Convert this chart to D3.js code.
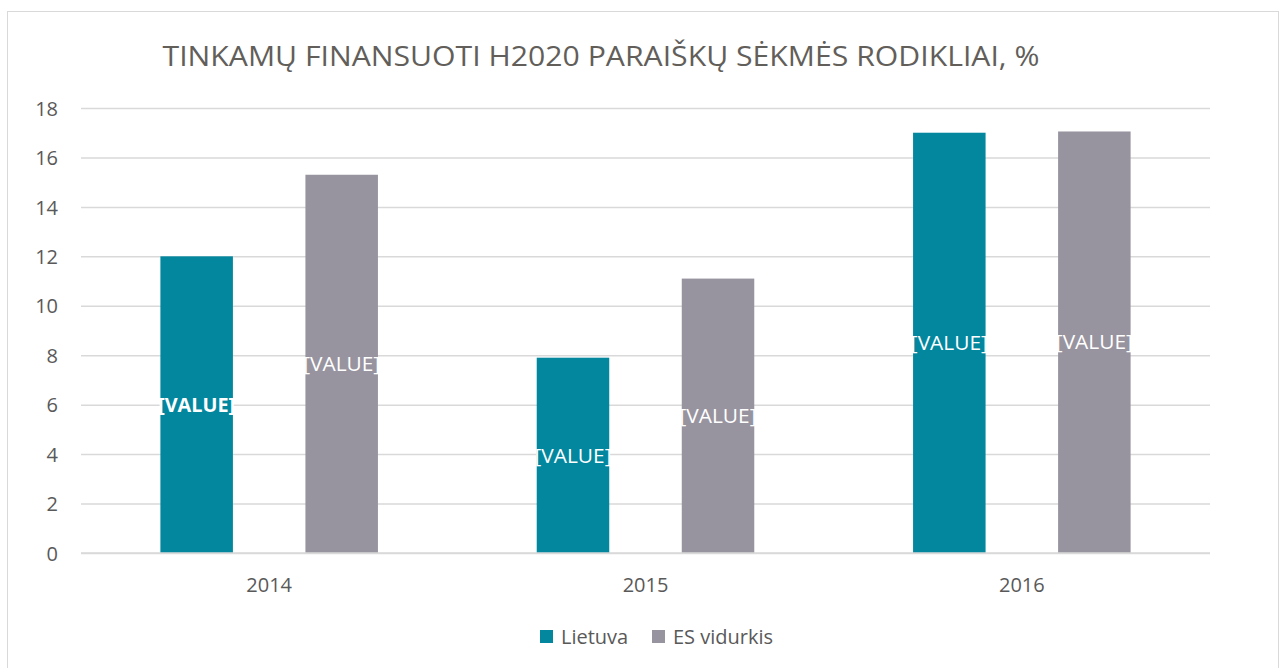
<!DOCTYPE html>
<html>
<head>
<meta charset="utf-8">
<script src="https://cdn.jsdelivr.net/npm/d3@7"></script>
<style>
  html, body { margin: 0; padding: 0; background: #fff; }
  svg { display: block; }
  text { font-family: "Open Sans", "Noto Sans", sans-serif; }
</style>
</head>
<body>
<svg id="chart" width="1285" height="668"></svg>
<script>
const title = "TINKAMŲ FINANSUOTI H2020 PARAIŠKŲ SĖKMĖS RODIKLIAI, %";
const categories = ["2014", "2015", "2016"];
const seriesNames = ["Lietuva", "ES vidurkis"];
const lietuva = [12.0, 7.9, 17.0];
const esVidurkis = [15.3, 11.1, 17.05];
const yTicks = [0, 2, 4, 6, 8, 10, 12, 14, 16, 18];
const labelText = "[VALUE]";
const boldLabel = [[true, false, false], [false, false, false]];

const colors = ["#02879F", "#98949F"];
const series = [lietuva, esVidurkis];

const svg = d3.select("#chart");
const W = 1285, H = 668;
const margin = { left: 81, right: 75, top: 108, bottom: 115 };
const plotW = W - margin.left - margin.right;
const plotH = H - margin.top - margin.bottom;

// chart border
svg.append("rect")
  .attr("x", 7.5).attr("y", 11.5)
  .attr("width", 1271).attr("height", 680)
  .attr("fill", "#fff").attr("stroke", "#d9d9d9").attr("stroke-width", 1);

const g = svg.append("g").attr("transform", `translate(${margin.left},${margin.top})`);

const x0 = d3.scaleBand().domain(categories).range([0, plotW]).paddingInner(0).paddingOuter(0);
const x1 = d3.scaleBand().domain(seriesNames).range([79.4, x0.bandwidth() - 79.4]).paddingInner(0.5).paddingOuter(0);
const y = d3.scaleLinear().domain([0, 18]).range([plotH, 0]);

// gridlines
const yAxis = d3.axisLeft(y).tickValues(yTicks).tickSize(-plotW).tickFormat(d3.format("d"));
const ya = g.append("g").call(yAxis);
ya.select(".domain").remove();
ya.selectAll(".tick line").attr("stroke", "#d9d9d9").attr("stroke-width", 1.5);
ya.selectAll(".tick text")
  .attr("fill", "#595959").attr("font-size", 20)
  .attr("text-anchor", "end").attr("x", -23).attr("dy", "0.36em");

// bars
const groups = g.selectAll(".grp").data(categories).enter().append("g")
  .attr("transform", d => `translate(${x0(d)},0)`);

groups.each(function(cat, ci) {
  const gg = d3.select(this);
  seriesNames.forEach((s, si) => {
    const v = series[si][ci];
    gg.append("rect")
      .attr("x", x1(s)).attr("y", y(v))
      .attr("width", x1.bandwidth()).attr("height", y(0) - y(v))
      .attr("fill", colors[si]);
    const bold = boldLabel[si][ci];
    gg.append("text")
      .attr("x", x1(s) + x1.bandwidth() / 2)
      .attr("y", (y(v) + y(0)) / 2)
      .attr("dy", "0.36em")
      .attr("text-anchor", "middle")
      .attr("fill", "#fff")
      .attr("font-size", bold ? 19 : 20)
      .attr("font-weight", bold ? "bold" : "normal")
      .attr("textLength", 77).attr("lengthAdjust", "spacingAndGlyphs")
      .text(labelText);
  });
});

// x axis labels
const xAxis = d3.axisBottom(x0).tickSize(0);
const xa = g.append("g").attr("transform", `translate(0,${plotH})`).call(xAxis);
xa.select(".domain").remove();
xa.selectAll(".tick text").attr("fill", "#595959").attr("font-size", 20)
  .attr("y", 39).attr("dy", 0);
// baseline
g.append("line").attr("x1", 0).attr("x2", plotW).attr("y1", y(0)).attr("y2", y(0))
  .attr("stroke", "#d9d9d9").attr("stroke-width", 1.5);

// title
svg.append("text")
  .attr("x", 601).attr("y", 66)
  .attr("text-anchor", "middle")
  .attr("fill", "#625e5a")
  .attr("font-size", 27)
  .attr("textLength", 877).attr("lengthAdjust", "spacingAndGlyphs")
  .text(title);

// legend
const legendItems = [{ name: seriesNames[0], x: 540, c: colors[0], w: 69 }, { name: seriesNames[1], x: 652, c: colors[1], w: 103 }];
const lg = svg.append("g");
legendItems.forEach(it => {
  lg.append("rect").attr("x", it.x).attr("y", 630).attr("width", 13).attr("height", 13).attr("fill", it.c);
  lg.append("text").attr("x", it.x + 21).attr("y", 644).attr("fill", "#595959")
    .attr("font-size", 20).text(it.name);
});
</script>
</body>
</html>
